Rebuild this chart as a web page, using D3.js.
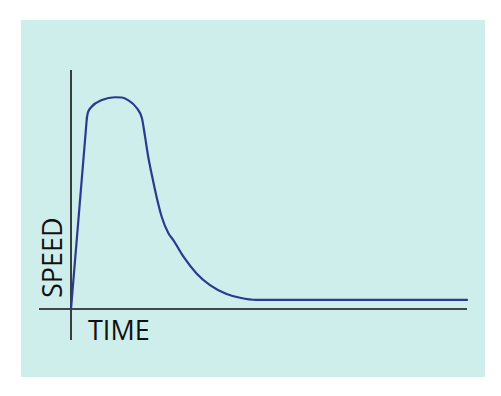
<!DOCTYPE html>
<html>
<head>
<meta charset="utf-8">
<script src="https://cdn.jsdelivr.net/npm/d3@7"></script>
<style>
  html, body { margin: 0; padding: 0; background: #fff; }
  svg { display: block; }
</style>
</head>
<body>
<svg id="chart" width="501" height="396"></svg>
<script>
// speed vs time (both on a 0-100 scale)
const time  = [0, 4.0, 4.3, 5.2, 7.8, 11.1, 12.9, 14.4, 16.6, 17.9, 18.7, 19.5, 20.5, 21.6, 22.9, 24.6, 25.8, 28.4, 31.7, 35.1, 39.3, 42.7, 46.9, 100];
const speed = [0, 79.9, 82.4, 84.6, 87.4, 88.6, 88.5, 87.4, 84.1, 79.9, 72.1, 63.7, 55.4, 47.0, 38.6, 31.7, 28.9, 21.9, 14.9, 10.0, 6.3, 4.7, 3.8, 3.8];
const xLabel = 'TIME';
const yLabel = 'SPEED';

const svg = d3.select('#chart');

// panel background
svg.append('rect').attr('x', 21).attr('y', 20).attr('width', 464).attr('height', 357).attr('fill', '#cdeeeb');

const x = d3.scaleLinear().domain([0, 100]).range([71, 467]);
const y = d3.scaleLinear().domain([0, 100]).range([309, 70]);

// axes: plain lines crossing at the origin
svg.append('line').attr('x1', x(0)).attr('x2', x(0)).attr('y1', 70).attr('y2', 340)
  .attr('stroke', '#111').attr('stroke-width', 1.6);
svg.append('line').attr('x1', 39).attr('x2', x(100)).attr('y1', y(0)).attr('y2', y(0))
  .attr('stroke', '#111').attr('stroke-width', 1.6);

const pts = time.map((t, i) => [t, speed[i]]);
// the rise is a straight stroke, the rest is smooth
const straight = d3.line().x(d => x(d[0])).y(d => y(d[1]));
const smooth = d3.line().x(d => x(d[0])).y(d => y(d[1])).curve(d3.curveMonotoneX);
const g = svg.append('g').attr('fill', 'none').attr('stroke', '#2b3990')
  .attr('stroke-width', 2.2).attr('stroke-linejoin', 'round').attr('stroke-linecap', 'round');
g.append('path').attr('d', straight(pts.slice(0, 2)));
g.append('path').attr('d', smooth(pts.slice(1)));

// labels
svg.append('text').attr('x', 88).attr('y', 340).text(xLabel)
  .attr('font-family', 'Open Sans, sans-serif').attr('font-size', 27).attr('fill', '#111');
svg.append('text').attr('transform', 'translate(62,298) rotate(-90)').text(yLabel)
  .attr('font-family', 'Open Sans, sans-serif').attr('font-size', 27).attr('fill', '#111');
</script>
</body>
</html>
